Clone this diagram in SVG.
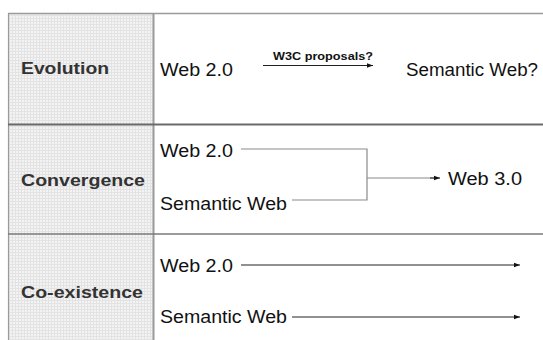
<svg xmlns="http://www.w3.org/2000/svg" width="543" height="340" viewBox="0 0 543 340">
<defs>
  <pattern id="grid" width="3" height="3" patternUnits="userSpaceOnUse">
    <rect width="3" height="3" fill="#f3f3f3"/>
    <path d="M0 0.5H3M0.5 0V3" stroke="#e3e3e3" stroke-width="1"/>
  </pattern>
  <marker id="ah" viewBox="0 0 6 6" refX="6" refY="3" markerWidth="6" markerHeight="6" markerUnits="userSpaceOnUse" orient="auto">
    <path d="M0 0.8L6 3L0 5.2Z" fill="#111"/>
  </marker>
  <style>
    .lbl{font-family:"Liberation Sans",Arial,sans-serif;font-weight:bold;font-size:17px;fill:#333}
    .txt{font-family:"Liberation Sans",Arial,sans-serif;font-size:17.5px;fill:#111}
    .small{font-family:"Liberation Sans",Arial,sans-serif;font-weight:bold;font-size:11px;fill:#111}
    .gline{fill:none;stroke:#8a8a8a;stroke-width:1.2}
    .dline{fill:none;stroke:#222;stroke-width:1}
  </style>
</defs>
<rect width="543" height="340" fill="#ffffff"/>
<g id="table">
  <rect x="8" y="14" width="145.5" height="326" fill="url(#grid)"/>
  <line x1="8" y1="13.5" x2="543" y2="13.5" stroke="#9a9a9a" stroke-width="1.5"/>
  <line x1="8.5" y1="13" x2="8.5" y2="340" stroke="#9a9a9a" stroke-width="1.2"/>
  <line x1="153.5" y1="13" x2="153.5" y2="340" stroke="#9a9a9a" stroke-width="2"/>
  <line x1="8" y1="124.5" x2="543" y2="124.5" stroke="#6a6a6a" stroke-width="2"/>
  <line x1="8" y1="234" x2="543" y2="234" stroke="#7a7a7a" stroke-width="1.6"/>
</g>
<g id="label-evolution"><text class="lbl" x="21" y="73.5" textLength="88" lengthAdjust="spacingAndGlyphs">Evolution</text></g>
<g id="label-convergence"><text class="lbl" x="21" y="185.5" textLength="124" lengthAdjust="spacingAndGlyphs">Convergence</text></g>
<g id="label-coexistence"><text class="lbl" x="21" y="297.5" textLength="122" lengthAdjust="spacingAndGlyphs">Co-existence</text></g>

<g id="evo-web20"><text class="txt" x="160" y="75.5" textLength="73" lengthAdjust="spacingAndGlyphs">Web 2.0</text></g>
<g id="evo-semweb"><text class="txt" x="406" y="75.5" textLength="132" lengthAdjust="spacingAndGlyphs">Semantic Web?</text></g>
<g id="conv-web20"><text class="txt" x="160" y="157" textLength="73" lengthAdjust="spacingAndGlyphs">Web 2.0</text></g>
<g id="conv-semweb"><text class="txt" x="160" y="210" textLength="127" lengthAdjust="spacingAndGlyphs">Semantic Web</text></g>
<g id="conv-web30"><text class="txt" x="448" y="185" textLength="74" lengthAdjust="spacingAndGlyphs">Web 3.0</text></g>
<g id="coex-web20"><text class="txt" x="160" y="272" textLength="73" lengthAdjust="spacingAndGlyphs">Web 2.0</text></g>
<g id="coex-semweb"><text class="txt" x="160" y="323" textLength="127" lengthAdjust="spacingAndGlyphs">Semantic Web</text></g>

<g id="connectors">
  <line class="dline" x1="263" y1="65.5" x2="373" y2="65.5" marker-end="url(#ah)"/>
  <text class="small" x="273" y="60" textLength="100" lengthAdjust="spacingAndGlyphs">W3C proposals?</text>
  <polyline class="gline" points="241,149 367,149 367,200 292,200"/>
  <line class="gline" x1="367" y1="178" x2="436" y2="178"/>
  <line class="dline" x1="430" y1="178" x2="440" y2="178" marker-end="url(#ah)"/>
  <line class="dline" x1="241" y1="265" x2="520" y2="265" marker-end="url(#ah)" stroke="#444"/>
  <line class="dline" x1="292" y1="317" x2="520" y2="317" marker-end="url(#ah)" stroke="#444"/>
</g>
</svg>
